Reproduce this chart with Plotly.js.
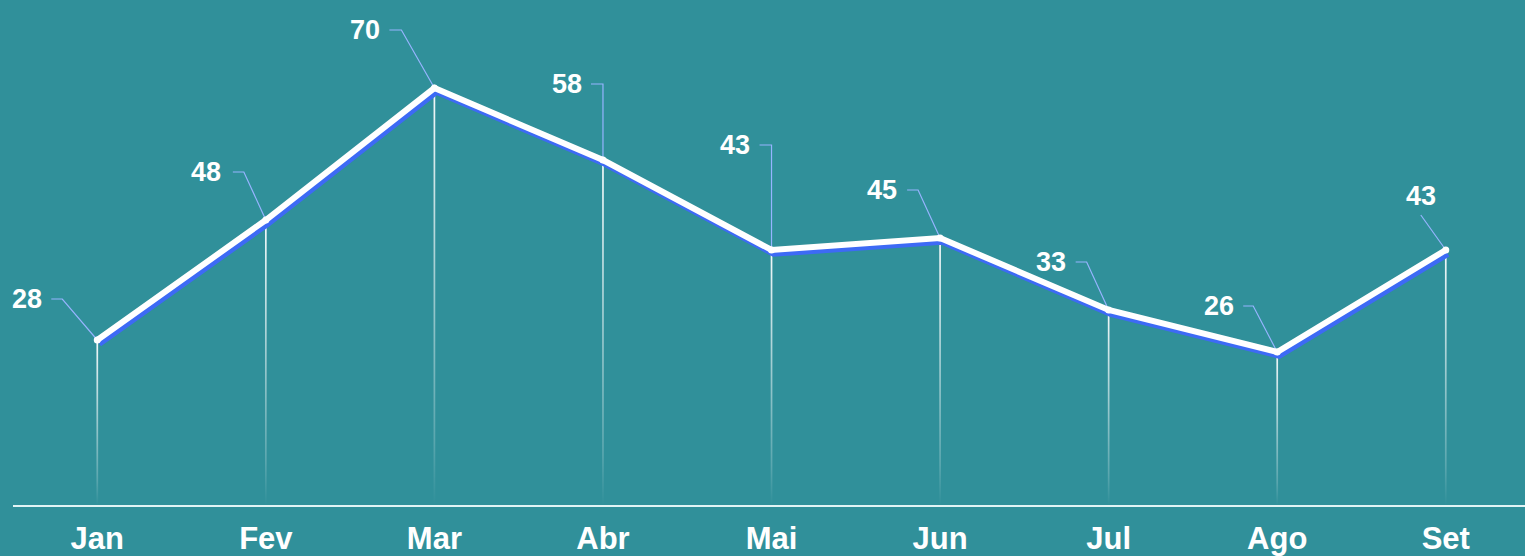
<!DOCTYPE html>
<html>
<head>
<meta charset="utf-8">
<script src="https://cdn.plot.ly/plotly-3.0.1.min.js"></script>
<style>html,body{margin:0;padding:0;background:#30909a;}#chart{width:1525px;height:556px;}</style>
</head>
<body>
<div id="chart"></div>
<script>
// ---- data ----
const months = ["Jan", "Fev", "Mar", "Abr", "Mai", "Jun", "Jul", "Ago", "Set"];
const values = [28, 48, 70, 58, 43, 45, 33, 26, 43];

// ---- label leader layout (pixel offsets from each point; up = positive) ----
// [diagX, diagY, horizEndX, labelX, labelY, labelAnchor]
const leaderLayout = [
  [-35, 41, -46, -53, 41, "right"],
  [-22, 48, -33, -43, 48, "right"],
  [-33, 58, -45, -52, 58, "right"],
  [0, 76, -12, -19, 76, "right"],
  [0, 105, -12, -20, 105, "right"],
  [-22, 48, -33, -41, 48, "right"],
  [-22, 48, -33, -41, 48, "right"],
  [-24, 46, -34, -41, 46, "right"],
  [-25, 35, -25, -25, 54, "center"]
];

const xs = months.map((m, i) => i);
const pxPerX = 168.6;
const pxPerY = 6.0;

const traces = [];
// vertical drop lines with fading gradient
xs.forEach((x, i) => {
  const w = 0.85 / pxPerX;
  traces.push({
    type: "scatter", mode: "lines",
    x: [x - w, x + w, x + w, x - w, x - w],
    y: [0.5, 0.5, values[i], values[i], 0.5],
    fill: "toself",
    line: {width: 0, color: "rgba(0,0,0,0)"},
    fillgradient: {
      type: "vertical",
      colorscale: [[0, "rgba(255,255,255,0)"], [0.15, "rgba(255,255,255,0.2)"], [1, "rgba(255,255,255,0.95)"]]
    },
    hoverinfo: "skip", showlegend: false
  });
});
// blue shadow line
traces.push({
  type: "scatter", mode: "lines",
  x: xs.map(x => x + 2 / pxPerX),
  y: values.map(v => v - 3.8 / pxPerY),
  line: {color: "#3d6af5", width: 6},
  hoverinfo: "skip", showlegend: false
});
// main white line
traces.push({
  type: "scatter", mode: "lines+markers",
  x: xs, y: values,
  line: {color: "#ffffff", width: 6},
  marker: {color: "#ffffff", size: 7},
  hoverinfo: "skip", showlegend: false
});

const shapes = [];
const annotations = [];
values.forEach((v, i) => {
  const L = leaderLayout[i];
  shapes.push({
    type: "path",
    xref: "x", yref: "y",
    xsizemode: "pixel", ysizemode: "pixel",
    xanchor: i, yanchor: v,
    path: `M 0,0 L ${L[0]},${L[1]} L ${L[2]},${L[1]}`,
    line: {color: "rgba(150,180,255,1)", width: 1.2},
    layer: "below"
  });
  annotations.push({
    xref: "x", yref: "y", x: i, y: v,
    xshift: L[3], yshift: L[4],
    xanchor: L[5], yanchor: "middle",
    text: String(v), showarrow: false,
    font: {family: "Liberation Sans, Arial, sans-serif", size: 27, color: "#ffffff", weight: "bold"}
  });
});

const layout = {
  width: 1525, height: 556,
  paper_bgcolor: "#30909a",
  plot_bgcolor: "#30909a",
  margin: {l: 13, r: 0, t: 0, b: 51},
  showlegend: false,
  xaxis: {
    range: [-0.5, 8.47],
    tickvals: xs, ticktext: months,
    showgrid: false, zeroline: false,
    showline: true, linecolor: "rgba(235,250,250,0.95)", linewidth: 2,
    ticks: "", ticklabelstandoff: 5,
    tickfont: {family: "Liberation Sans, Arial, sans-serif", size: 31, color: "#ffffff", weight: "bold"},
    fixedrange: true
  },
  yaxis: {
    range: [0.5, 84.67],
    showgrid: false, zeroline: false, showticklabels: false, showline: false, ticks: "",
    fixedrange: true
  },
  shapes: shapes,
  annotations: annotations
};

Plotly.newPlot("chart", traces, layout, {displayModeBar: false, staticPlot: true});
</script>
</body>
</html>
